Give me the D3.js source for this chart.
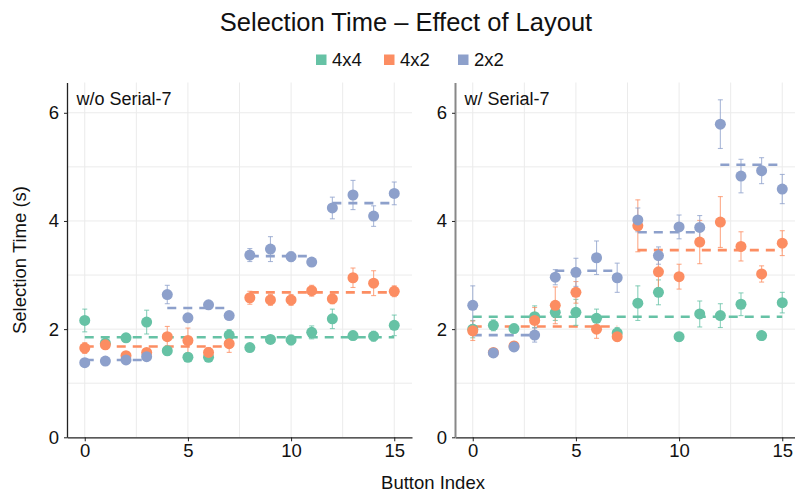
<!DOCTYPE html>
<html>
<head>
<meta charset="utf-8">
<script src="https://cdn.jsdelivr.net/npm/d3@7"></script>
<style>
  html, body { margin: 0; padding: 0; background: #fff; }
  svg { display: block; font-family: "Liberation Sans", Arial, Helvetica, sans-serif; }
</style>
</head>
<body>
<svg id="chart" width="795" height="494"></svg>
<script>
// ---------- data ----------
const buttons = d3.range(16);
const seriesNames = ["4x4", "4x2", "2x2"];
const panelTitles = ["w/o Serial-7", "w/ Serial-7"];
const yTickLabels = [0, 2, 4, 6];
const xTickLabels = [0, 5, 10, 15];

// w/o Serial-7
const noS_4x4 = [2.16, 1.74, 1.84, 2.13, 1.60, 1.48, 1.48, 1.89, 1.66, 1.81, 1.80, 1.94, 2.19, 1.88, 1.87, 2.07];
const noS_4x4_err = [0.21, 0.08, 0.07, 0.22, 0.08, 0.06, 0.07, 0.10, 0.07, 0.07, 0.09, 0.12, 0.18, 0.08, 0.09, 0.19];
const noS_4x2 = [1.65, 1.71, 1.51, 1.57, 1.86, 1.79, 1.57, 1.73, 2.58, 2.54, 2.54, 2.71, 2.56, 2.95, 2.85, 2.70];
const noS_4x2_err = [0.10, 0.08, 0.07, 0.07, 0.19, 0.23, 0.09, 0.16, 0.12, 0.10, 0.10, 0.10, 0.09, 0.18, 0.23, 0.10];
const noS_2x2 = [1.38, 1.41, 1.43, 1.49, 2.64, 2.21, 2.45, 2.25, 3.37, 3.48, 3.34, 3.24, 4.24, 4.48, 4.09, 4.51];
const noS_2x2_err = [0.05, 0.05, 0.06, 0.07, 0.17, 0.07, 0.07, 0.06, 0.12, 0.23, 0.09, 0.06, 0.20, 0.27, 0.19, 0.21];

// w/ Serial-7
const withS_4x4 = [2.00, 2.07, 2.01, 2.23, 2.31, 2.31, 2.20, 1.93, 2.48, 2.68, 1.86, 2.28, 2.25, 2.46, 1.88, 2.49];
const withS_4x4_err = [0.16, 0.10, 0.08, 0.20, 0.15, 0.24, 0.17, 0.10, 0.32, 0.23, 0.08, 0.24, 0.22, 0.21, 0.08, 0.19];
const withS_4x2 = [1.97, 1.57, 1.69, 2.16, 2.44, 2.68, 2.00, 1.86, 3.91, 3.06, 2.97, 3.61, 3.98, 3.53, 3.02, 3.59];
const withS_4x2_err = [0.18, 0.06, 0.07, 0.24, 0.34, 0.20, 0.17, 0.08, 0.48, 0.30, 0.23, 0.40, 0.47, 0.27, 0.15, 0.23];
const withS_2x2 = [2.44, 1.56, 1.67, 1.89, 2.96, 3.05, 3.32, 2.95, 4.02, 3.36, 3.89, 3.88, 5.79, 4.83, 4.93, 4.59];
const withS_2x2_err = [0.36, 0.06, 0.07, 0.13, 0.14, 0.26, 0.31, 0.27, 0.22, 0.16, 0.22, 0.22, 0.45, 0.31, 0.24, 0.27];

// group means (dashed lines): [startButton, endButton, value]
const noS_4x4_mean = [[0, 15, 1.85]];
const noS_4x2_mean = [[0, 7, 1.68], [8, 15, 2.68]];
const noS_2x2_mean = [[0, 3, 1.43], [4, 7, 2.39], [8, 11, 3.35], [12, 15, 4.33]];
const withS_4x4_mean = [[0, 15, 2.23]];
const withS_4x2_mean = [[0, 7, 2.05], [8, 15, 3.46]];
const withS_2x2_mean = [[0, 3, 1.89], [4, 7, 3.08], [8, 11, 3.79], [12, 15, 5.04]];

const colors = ["#66c2a5", "#fc8d62", "#8da0cb"];

const panels = [
  { title: panelTitles[0], vals: [noS_4x4, noS_4x2, noS_2x2], errs: [noS_4x4_err, noS_4x2_err, noS_2x2_err],
    means: [noS_4x4_mean, noS_4x2_mean, noS_2x2_mean], x0: 67, x1: 412, axisColor: "#222", axisW: 1.3 },
  { title: panelTitles[1], vals: [withS_4x4, withS_4x2, withS_2x2], errs: [withS_4x4_err, withS_4x2_err, withS_2x2_err],
    means: [withS_4x4_mean, withS_4x2_mean, withS_2x2_mean], x0: 455, x1: 800, axisColor: "#888", axisW: 2 }
];

// ---------- drawing ----------
const svg = d3.select("#chart");
const yTop = 82.5, yBot = 437.3;
const y = d3.scaleLinear().domain([0, 6.56]).range([yBot, yTop]);
const font = "Liberation Sans, Arial, sans-serif";

panels.forEach((p, pi) => {
  const x = d3.scaleLinear().domain([-0.86, 15.86]).range([p.x0, p.x1]);
  const g = svg.append("g");

  // gridlines
  g.append("g").selectAll("line.hg").data(d3.range(1, 7)).join("line")
    .attr("x1", p.x0).attr("x2", p.x1).attr("y1", d => y(d)).attr("y2", d => y(d))
    .attr("stroke", "#ebebeb").attr("stroke-width", 1);
  g.append("g").selectAll("line.vg").data(d3.range(0, 16, 2.5)).join("line")
    .attr("x1", d => x(d)).attr("x2", d => x(d)).attr("y1", yTop).attr("y2", yBot)
    .attr("stroke", "#ebebeb").attr("stroke-width", 1);

  // dashed mean lines
  p.means.forEach((segs, si) => {
    g.append("g").selectAll("line").data(segs).join("line")
      .attr("x1", d => x(d[0])).attr("x2", d => x(d[1]))
      .attr("y1", d => y(d[2])).attr("y2", d => y(d[2]))
      .attr("stroke", colors[si]).attr("stroke-width", 2.6)
      .attr("stroke-dasharray", "9,7");
  });

  // error bars + points
  p.vals.forEach((vals, si) => {
    const errs = p.errs[si];
    const eg = g.append("g").attr("stroke", colors[si]).attr("stroke-opacity", 0.75).attr("stroke-width", 1.1);
    eg.selectAll("line.v").data(buttons).join("line")
      .attr("x1", i => x(i)).attr("x2", i => x(i))
      .attr("y1", i => y(vals[i] - errs[i])).attr("y2", i => y(vals[i] + errs[i]));
    eg.selectAll("line.t").data(buttons).join("line")
      .attr("x1", i => x(i) - 2.5).attr("x2", i => x(i) + 2.5)
      .attr("y1", i => y(vals[i] + errs[i])).attr("y2", i => y(vals[i] + errs[i]));
    eg.selectAll("line.b").data(buttons).join("line")
      .attr("x1", i => x(i) - 2.5).attr("x2", i => x(i) + 2.5)
      .attr("y1", i => y(vals[i] - errs[i])).attr("y2", i => y(vals[i] - errs[i]));
  });
  p.vals.forEach((vals, si) => {
    g.append("g").selectAll("circle").data(buttons).join("circle")
      .attr("cx", i => x(i)).attr("cy", i => y(vals[i])).attr("r", 5.5)
      .attr("fill", colors[si]);
  });

  // axes
  const xAxis = g.append("g").attr("transform", `translate(0,${yBot})`)
    .call(d3.axisBottom(x).tickValues(xTickLabels).tickFormat(d3.format("d"))
      .tickSize(4).tickPadding(3).tickSizeOuter(0));
  xAxis.select(".domain").attr("stroke", "#222").attr("stroke-width", 1.3);
  xAxis.selectAll(".tick line").attr("stroke", "#222");
  xAxis.selectAll("text").attr("font-size", 18.5).attr("font-family", font).attr("fill", "#111");

  const yAxis = g.append("g").attr("transform", `translate(${p.x0},0)`)
    .call(d3.axisLeft(y).tickValues(yTickLabels).tickFormat(d3.format("d"))
      .tickSize(3).tickPadding(5).tickSizeOuter(0));
  yAxis.select(".domain").attr("stroke", p.axisColor).attr("stroke-width", p.axisW);
  yAxis.selectAll(".tick line").attr("stroke", "#222");
  yAxis.selectAll("text").attr("font-size", 18.5).attr("font-family", font).attr("fill", "#111");

  // panel title
  g.append("text").attr("x", p.x0 + 9.5).attr("y", 105)
    .attr("font-size", 18).attr("font-family", font).attr("fill", "#111").text(p.title);
});

// title
svg.append("text").attr("x", 406).attr("y", 31).attr("text-anchor", "middle")
  .attr("font-size", 25.5).attr("font-family", font).attr("fill", "#111")
  .text("Selection Time \u2013 Effect of Layout");

// legend
const legendX = [316, 384, 458];
const lg = svg.append("g").selectAll("g").data(seriesNames).join("g")
  .attr("transform", (d, i) => `translate(${legendX[i]},54.5)`);
lg.append("rect").attr("width", 10.5).attr("height", 10.5).attr("fill", (d, i) => colors[i]);
lg.append("text").attr("x", 16).attr("y", 11.5).attr("font-size", 18.5).attr("font-family", font)
  .attr("fill", "#111").text(d => d);

// axis titles
svg.append("text").attr("x", 433).attr("y", 489).attr("text-anchor", "middle")
  .attr("font-size", 18.5).attr("font-family", font).attr("fill", "#111").text("Button Index");
svg.append("text").attr("transform", "translate(26,260) rotate(-90)").attr("text-anchor", "middle")
  .attr("font-size", 18.5).attr("font-family", font).attr("fill", "#111").text("Selection Time (s)");
</script>
</body>
</html>
